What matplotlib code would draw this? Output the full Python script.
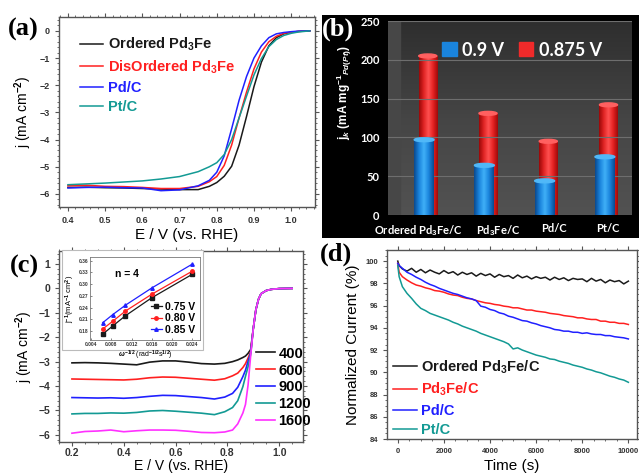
import numpy as np
import matplotlib
matplotlib.use('Agg')
import matplotlib.pyplot as plt
import matplotlib.transforms as mtransforms
from matplotlib.colors import LinearSegmentedColormap
from matplotlib.patches import Patch, Rectangle, Ellipse

plt.rcParams['font.family'] = ['Liberation Sans', 'DejaVu Sans']
plt.rcParams['font.weight'] = 'bold'
plt.rcParams['mathtext.fontset'] = 'custom'
plt.rcParams['mathtext.rm'] = 'Liberation Sans:bold'
plt.rcParams['mathtext.it'] = 'Liberation Sans:italic:bold'
plt.rcParams['mathtext.bf'] = 'Liberation Sans:bold'

# ---- (a) LSV of the four catalysts
E_a = [0.40, 0.45, 0.50, 0.55, 0.60, 0.65, 0.70, 0.75, 0.78, 0.80, 0.82,
       0.84, 0.86, 0.88, 0.90, 0.92, 0.94, 0.96, 0.98, 1.00, 1.02, 1.05]
j_ordered = [-5.76, -5.75, -5.77, -5.78, -5.80, -5.82, -5.84, -5.84, -5.72, -5.58, -5.35,
             -4.98, -4.20, -3.15, -2.05, -1.15, -0.55, -0.25, -0.11, -0.05, -0.02, 0.0]
j_disordered = [-5.70, -5.68, -5.72, -5.73, -5.76, -5.80, -5.80, -5.72, -5.55, -5.36, -4.95,
                -4.20, -3.20, -2.25, -1.40, -0.78, -0.40, -0.20, -0.09, -0.05, -0.02, 0.0]
j_pd = [-5.78, -5.76, -5.75, -5.77, -5.78, -5.88, -5.85, -5.70, -5.50, -5.20, -4.60,
        -3.60, -2.55, -1.68, -1.00, -0.55, -0.25, -0.11, -0.06, -0.03, -0.01, 0.0]
j_pt = [-5.66, -5.63, -5.60, -5.56, -5.52, -5.45, -5.36, -5.18, -5.00, -4.85, -4.55,
        -4.00, -3.20, -2.40, -1.62, -1.02, -0.58, -0.32, -0.17, -0.09, -0.04, 0.0]
labels_a = ['Ordered Pd$_3$Fe', 'DisOrdered Pd$_3$Fe', 'Pd/C', 'Pt/C']

# ---- (b) mass activity
cats_b = ['Ordered Pd$_3$Fe/C', 'Pd$_3$Fe/C', 'Pd/C', 'Pt/C']
jk_090 = [97, 64, 44, 75]
jk_0875 = [205, 131, 95, 142]

# ---- (c) LSV at different rotation rates
E_c = [0.20, 0.25, 0.30, 0.35, 0.40, 0.45, 0.50, 0.55, 0.60, 0.65, 0.70, 0.75, 0.79, 0.82,
       0.84, 0.86, 0.87, 0.88, 0.89, 0.90, 0.91, 0.92, 0.93, 0.95, 0.97, 1.00, 1.05]
j_400 = [-3.05, -3.04, -3.05, -3.07, -3.10, -3.13, -3.02, -2.97, -2.97, -3.02, -3.08, -3.10, -3.07, -3.00,
         -2.93, -2.83, -2.77, -2.66, -2.50, -1.65, -0.88, -0.45, -0.22, -0.09, -0.04, -0.01, 0.0]
j_600 = [-3.71, -3.72, -3.73, -3.74, -3.75, -3.72, -3.66, -3.63, -3.64, -3.68, -3.72, -3.76, -3.70, -3.58,
         -3.47, -3.24, -3.08, -2.85, -2.60, -1.65, -0.88, -0.45, -0.22, -0.09, -0.04, -0.01, 0.0]
j_900 = [-4.47, -4.48, -4.49, -4.48, -4.50, -4.47, -4.42, -4.38, -4.39, -4.43, -4.47, -4.53, -4.45, -4.30,
         -4.05, -3.61, -3.35, -2.98, -2.65, -1.65, -0.88, -0.45, -0.22, -0.09, -0.04, -0.01, 0.0]
j_1200 = [-5.14, -5.12, -5.12, -5.10, -5.11, -5.08, -5.02, -5.00, -5.03, -5.07, -5.11, -5.17, -5.05, -4.88,
          -4.60, -4.02, -3.60, -3.20, -2.70, -1.65, -0.88, -0.45, -0.22, -0.09, -0.04, -0.01, 0.0]
j_1600 = [-5.93, -5.86, -5.84, -5.80, -5.87, -5.83, -5.80, -5.80, -5.81, -5.85, -5.90, -5.91, -5.88, -5.80,
          -5.55, -5.10, -4.75, -3.95, -2.75, -1.65, -0.88, -0.45, -0.22, -0.09, -0.04, -0.01, 0.0]
rpm = ['400', '600', '900', '1200', '1600']

# inset: Koutecky-Levich
inv_w = [0.0063, 0.0083, 0.0108, 0.016, 0.024]
inv_j_075 = [0.172, 0.193, 0.219, 0.265, 0.325]
inv_j_080 = [0.185, 0.205, 0.231, 0.274, 0.333]
inv_j_085 = [0.201, 0.222, 0.246, 0.290, 0.351]

# ---- (d) chronoamperometry
t_d = np.r_[0, 60, np.arange(200, 10001, 200)]
cur_ordered = [100.0, 99.6, 99.3, 99.1, 99.35, 99.0, 99.25, 98.95, 99.2, 99.0, 98.85, 99.15, 98.9,
               99.05, 98.75, 99.0, 98.8, 98.95, 98.65, 98.9, 98.7, 98.85, 98.55, 98.8, 98.6, 98.7,
               98.45, 98.75, 98.5, 98.65, 98.4, 98.6, 98.45, 98.55, 98.3, 98.55, 98.35, 98.5, 98.25,
               98.45, 98.35, 98.4, 98.15, 98.45, 98.2, 98.35, 98.05, 98.3, 98.15, 98.25, 97.95, 98.2]
cur_pd3fe = [99.8, 99.0, 98.6, 98.3, 98.05, 97.85, 97.75, 97.6, 97.5, 97.35, 97.3, 97.2, 97.05,
             96.95, 96.9, 96.75, 96.65, 96.6, 96.45, 96.35, 96.25, 96.2, 96.1, 96.05, 95.95, 95.9,
             95.8, 95.8, 95.7, 95.6, 95.6, 95.5, 95.45, 95.4, 95.3, 95.25, 95.2, 95.1, 95.05,
             95.0, 94.9, 94.9, 94.8, 94.75, 94.75, 94.6, 94.6, 94.5, 94.5, 94.4, 94.4, 94.3]
cur_pd = [99.8, 99.6, 99.35, 99.0, 98.8, 98.55, 98.35, 98.1, 97.9, 97.75, 97.55, 97.4, 97.25,
          97.1, 97.0, 96.85, 96.7, 96.6, 96.45, 95.95, 95.85, 95.65, 95.55, 95.35, 95.25, 95.05,
          94.95, 94.8, 94.65, 94.6, 94.45, 94.35, 94.2, 94.1, 94.0, 93.85, 93.8, 93.7, 93.7,
          93.6, 93.6, 93.5, 93.55, 93.45, 93.4, 93.4, 93.3, 93.3, 93.2, 93.15, 93.1, 93.0]
cur_pt = [99.6, 98.6, 97.7, 97.1, 96.65, 96.15, 95.75, 95.55, 95.3, 95.15, 95.0, 94.85, 94.7,
          94.5, 94.35, 94.15, 94.0, 93.85, 93.7, 93.5, 93.35, 93.2, 93.05, 92.9, 92.75, 92.55,
          92.1, 92.2, 92.0, 91.85, 91.7, 91.55, 91.45, 91.35, 91.2, 91.15, 91.0, 90.9, 90.8,
          90.65, 90.55, 90.45, 90.3, 90.2, 90.05, 89.95, 89.8, 89.65, 89.55, 89.4, 89.3, 89.1]
labels_d = ['Ordered Pd$_3$Fe/C', 'Pd$_3$Fe/C', 'Pd/C', 'Pt/C']

K, R, B, T, M = '#1a1a1a', '#ff2020', '#2020ff', '#139a94', '#ff30ff'

W, H = 639, 473
fig = plt.figure(figsize=(W / 100, H / 100), dpi=100)


def box(l, t, r, b):
    return [l / W, 1 - b / H, (r - l) / W, (b - t) / H]


def style(ax, size):
    for s in ax.spines.values():
        s.set_color('#555555')
        s.set_linewidth(1.0)
    ax.minorticks_on()
    ax.tick_params(which='both', direction='out', top=True, right=True,
                   colors='#555555', labelcolor='#333333', labelsize=size)
    ax.tick_params(which='major', length=3)
    ax.tick_params(which='minor', length=1.5)


def panel(x, y, s, color='black'):
    fig.text(x / W, 1 - y / H, s, fontsize=19, fontweight='bold', color=color,
             family=['Liberation Serif'], ha='left', va='center')


# ================= (a)
axa = fig.add_axes(box(59, 17, 315, 207))
for jj, c, lab in zip([j_ordered, j_disordered, j_pd, j_pt], [K, R, B, T], labels_a):
    axa.plot(E_a, jj, color=c, lw=1.1, label=lab)
axa.set_xlim(0.376, 1.064)
axa.set_ylim(-6.48, 0.51)
axa.set_xticks(np.arange(0.4, 1.01, 0.1))
axa.set_yticks(np.arange(-6, 0.1, 1))
style(axa, 6.5)
axa.set_xlabel('E / V (vs. RHE)', fontsize=11, labelpad=2)
axa.set_ylabel('j (mA cm$^{-2}$)', fontsize=10, labelpad=4)
axa.legend(loc='upper left', bbox_to_anchor=(0.03, 0.97), frameon=False, fontsize=10.5,
           labelcolor='linecolor', handlelength=1.6, handletextpad=0.3, labelspacing=0.36)
panel(8, 29, '(a)')

# ================= (b)
axbg = fig.add_axes(box(322, 15, 639, 238))
axbg.set_facecolor('black')
axbg.set_xticks([])
axbg.set_yticks([])
for s in axbg.spines.values():
    s.set_visible(False)

axb = fig.add_axes(box(388, 21, 632, 215))
wall = LinearSegmentedColormap.from_list('wall', ['#2e2e2e', '#454545', '#525252'])
axb.imshow(np.linspace(0, 1, 256).reshape(-1, 1), cmap=wall, aspect='auto',
           extent=[0, 1, 0, 1], transform=axb.transAxes, zorder=0)
axb.axvspan(-0.6, -0.4, color='#474747', zorder=0.5)
xb = np.arange(len(cats_b))
red_bars = axb.bar(xb + 0.06, jk_0875, width=0.30, color='none', zorder=2)
blue_bars = axb.bar(xb, jk_090, width=0.33, color='none', zorder=3)


def cylinder(bars, colors, top, z):
    cmap = LinearSegmentedColormap.from_list('cyl', colors)
    g = np.linspace(0, 1, 64).reshape(1, -1)
    for b in bars:
        x0, w, h = b.get_x(), b.get_width(), b.get_height()
        im = axb.imshow(g, cmap=cmap, aspect='auto', extent=[x0, x0 + w, 0, h], zorder=z)
        im.set_clip_path(b)
        axb.add_patch(Ellipse((x0 + w / 2, h), w, 5, color=top, zorder=z + 0.1))


cylinder(red_bars, ['#9a0808', '#e02424', '#ff5050', '#e52222', '#a00a0a'], '#ff6060', 2)
cylinder(blue_bars, ['#0a4a90', '#1a84dc', '#40b0f8', '#1a84dc', '#0a4a90'], '#50b8f8', 3)
axb.set_xlim(-0.6, 3.45)
axb.set_ylim(0, 250)
axb.set_yticks(np.arange(0, 251, 50))
axb.set_xticks(xb)
axb.set_xticklabels(cats_b)
axb.yaxis.grid(True, color='#6e6e6e', lw=0.8)
axb.set_axisbelow(False)
for s in axb.spines.values():
    s.set_visible(False)
axb.tick_params(length=0, labelcolor='white', labelsize=8, pad=6)
for t in axb.get_xticklabels() + axb.get_yticklabels():
    t.set_family(['Lato', 'DejaVu Sans'])
    t.set_fontweight('bold')
# perspective: the category labels sit a little off the bar centres
for t, dx in zip(axb.get_xticklabels(), [-6, 14, 9, 3]):
    t.set_transform(t.get_transform() + mtransforms.ScaledTranslation(dx / 100, 0, fig.dpi_scale_trans))
fig.text(344 / W, 1 - 92 / H, 'j$_k$ (mA mg$^{-1}$$_{Pd(Pt)}$)', rotation=90, color='white',
         fontsize=8.5, ha='center', va='center')
fig.legend([Patch(color='#1a84dc'), Patch(color='#f02a2a')], ['0.9 V', '0.875 V'],
           loc='center', bbox_to_anchor=(522 / W, 1 - 50 / H), ncol=2, frameon=False,
           prop={'family': ['Lato', 'DejaVu Sans'], 'weight': 'bold', 'size': 13},
           labelcolor='white', handlelength=0.8, handleheight=0.8, handletextpad=0.3,
           columnspacing=0.8)
panel(322, 29, '(b)', 'white')

# ================= (c)
axc = fig.add_axes(box(59, 251, 303, 442))
for jj, c, lab in zip([j_400, j_600, j_900, j_1200, j_1600], [K, R, B, T, M], rpm):
    axc.plot(E_c, jj, color=c, lw=1.2, label=lab)
axc.set_xlim(0.15, 1.092)
axc.set_ylim(-6.29, 1.53)
axc.set_xticks(np.arange(0.2, 1.01, 0.2))
axc.set_yticks(np.arange(-6, 1.1, 1))
style(axc, 7.5)
axc.tick_params(axis='x', which='major', pad=1.5)
axc.set_xlabel('E / V (vs. RHE)', fontsize=10, va='center')
axc.xaxis.set_label_coords(0.5, -(466 - 442) / 191)
axc.set_ylabel('j (mA cm$^{-2}$)', fontsize=10, labelpad=2)
axc.legend(loc='upper left', bbox_to_anchor=(191 / 244, 0.53), frameon=False, fontsize=10.5,
           handlelength=1.3, handletextpad=0.25, labelspacing=0.2, borderaxespad=0)
panel(10, 266, '(c)')

fig.patches.append(Rectangle((62 / W, 1 - 350 / H), 141 / W, 100 / H, transform=fig.transFigure,
                             facecolor='white', edgecolor='#bbbbbb', lw=0.8, zorder=1))
axi = fig.add_axes(box(90, 257, 200, 340))
axi.set_zorder(3)
axi.plot(inv_w, inv_j_075, color=K, marker='s', ms=2.5, lw=0.9, label='0.75 V')
axi.plot(inv_w, inv_j_080, color=R, marker='o', ms=2.5, lw=0.9, label='0.80 V')
axi.plot(inv_w, inv_j_085, color=B, marker='^', ms=2.5, lw=0.9, label='0.85 V')
axi.set_xlim(0.0038, 0.0255)
axi.set_ylim(0.157, 0.369)
axi.set_xticks(np.arange(0.004, 0.0241, 0.004))
axi.set_yticks(np.arange(0.18, 0.361, 0.03))
axi.xaxis.set_major_formatter(matplotlib.ticker.FormatStrFormatter('%.3f'))
axi.yaxis.set_major_formatter(matplotlib.ticker.FormatStrFormatter('%.2f'))
for s in axi.spines.values():
    s.set_color('#777777')
    s.set_linewidth(0.6)
axi.tick_params(direction='in', length=1.5, width=0.5, labelsize=3.5, pad=1.5,
                colors='#555555', labelcolor='#333333')
axi.set_xlabel(r'$\omega^{-1/2}$ (rad$^{-1/2}$s$^{1/2}$)', fontsize=5, labelpad=1)
axi.set_ylabel('j$^{-1}$(mA$^{-1}$ cm$^2$)', fontsize=5.5, labelpad=1)
axi.text(0.23, 0.76, 'n = 4', transform=axi.transAxes, fontsize=7.5)
axi.legend(loc='lower right', frameon=False, fontsize=7.5, handlelength=1.0,
           handletextpad=0.3, labelspacing=0.15, borderaxespad=0.1)

# ================= (d)
axd = fig.add_axes(box(387, 250, 637, 439))
for cc, c, lab in zip([cur_ordered, cur_pd3fe, cur_pd, cur_pt], [K, R, B, T], labels_d):
    axd.plot(t_d, cc, color=c, lw=1.1, label=lab)
axd.set_xlim(-467, 10374)
axd.set_ylim(84, 101)
axd.set_xticks(np.arange(0, 10001, 2000))
axd.set_yticks(np.arange(84, 100.1, 2))
style(axd, 5.5)
axd.set_xlabel('Time (s)', fontsize=11, labelpad=3)
axd.set_ylabel('Normalized Current (%)', fontsize=11, labelpad=4)
axd.legend(loc='lower left', bbox_to_anchor=(-0.01, -0.035), frameon=False, fontsize=10.5,
           labelcolor='linecolor', handlelength=1.6, handletextpad=0.3, labelspacing=0.36,
           borderaxespad=0.2)
panel(320, 254, '(d)')

fig.savefig('out.png', dpi=100)
